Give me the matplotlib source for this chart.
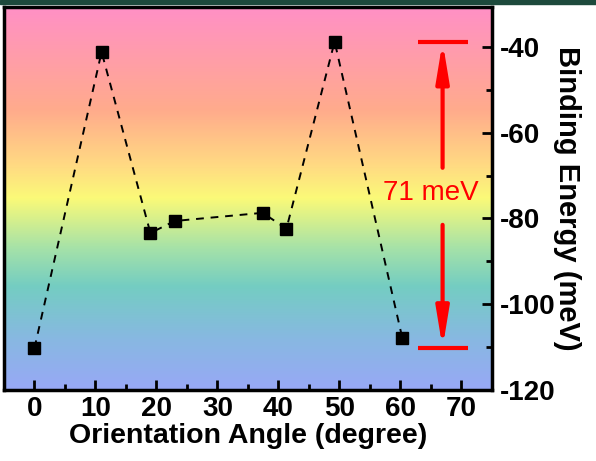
import numpy as np
import matplotlib
matplotlib.use("Agg")
import matplotlib.pyplot as plt
from matplotlib.colors import LinearSegmentedColormap
from matplotlib.patches import Rectangle

# Data
angles = [0, 11, 19, 23, 37.4, 41.3, 49.2, 60.3]
energies = [-110.2, -41.2, -83.4, -80.6, -78.7, -82.4, -38.8, -107.9]
x_ticks = [0, 10, 20, 30, 40, 50, 60, 70]
y_ticks = [-120, -100, -80, -60, -40]
delta_label = "71 meV"

plt.rcParams['font.family'] = ['Liberation Sans', 'DejaVu Sans']
plt.rcParams['axes.unicode_minus'] = False

fig = plt.figure(figsize=(5.96, 4.61), dpi=100)
fig.patches.append(Rectangle((0, 0.991), 1, 0.009, transform=fig.transFigure,
                             color='#1d4a3c', zorder=10))
ax = fig.add_axes([0.0067, 0.154, 0.8188, 0.831])

xlim = (-5, 75)
ylim = (-120, -30.7)
ax.set_xlim(*xlim)
ax.set_ylim(*ylim)

# gradient background
cmap = LinearSegmentedColormap.from_list('bg', [
    (0.0, '#98a8f6'),
    (0.13, '#88b8e2'),
    (0.27, '#74cdc2'),
    (0.37, '#a6e2a8'),
    (0.50, '#fbfa78'),
    (0.58, '#ffdc82'),
    (0.73, '#ffab8c'),
    (1.0, '#ff90c6'),
])
grad = np.linspace(0, 1, 256).reshape(-1, 1)
ax.imshow(grad, cmap=cmap, aspect='auto', origin='lower',
          extent=[xlim[0], xlim[1], ylim[0], ylim[1]], zorder=0)

ax.plot(angles, energies, color='black', linestyle=(0, (4, 3.5)), linewidth=1.4,
        marker='s', markersize=8, markerfacecolor='black', markeredgecolor='black', zorder=3)

# red annotation
red = '#ff0000'
top_v = max(energies)
bot_v = min(energies)
ax.plot([62.8, 71.1], [top_v, top_v], color=red, lw=3, zorder=4, solid_capstyle='butt')
ax.plot([62.8, 71.1], [bot_v, bot_v], color=red, lw=3, zorder=4, solid_capstyle='butt')
arrowprops = dict(arrowstyle='-|>,head_length=2.3,head_width=0.38', color=red, lw=3,
                  shrinkA=0, shrinkB=0)
ax.annotate('', xy=(66.9, top_v), xytext=(66.9, -68.2), arrowprops=arrowprops, zorder=4)
ax.annotate('', xy=(66.9, bot_v), xytext=(66.9, -81.5), arrowprops=arrowprops, zorder=4)
ax.text(64.9, -74.0, delta_label, color=red, fontsize=20, ha='center', va='center', zorder=5)

# axes styling
ax.yaxis.tick_right()
ax.yaxis.set_label_position('right')
ax.set_xticks(x_ticks)
ax.set_yticks(y_ticks)
ax.set_xticks(np.arange(5, 75, 10), minor=True)
ax.set_yticks(np.arange(-110, -30, 20), minor=True)
ax.tick_params(which='both', direction='in', width=2, labelsize=20)
ax.tick_params(which='major', length=7)
ax.tick_params(which='minor', length=4)
ax.tick_params(axis='y', which='both', right=True, left=False, pad=6)
ax.tick_params(axis='x', which='both', top=False, pad=4)
for lab in ax.get_xticklabels() + ax.get_yticklabels():
    lab.set_fontweight('bold')
for sp in ax.spines.values():
    sp.set_linewidth(2.5)

ax.set_xlabel('Orientation Angle (degree)', fontsize=20.5, fontweight='bold', labelpad=1)
ax.set_ylabel('Binding Energy (meV)', fontsize=21, fontweight='bold', rotation=-90,
              labelpad=18)

fig.savefig('out.png', dpi=100)
